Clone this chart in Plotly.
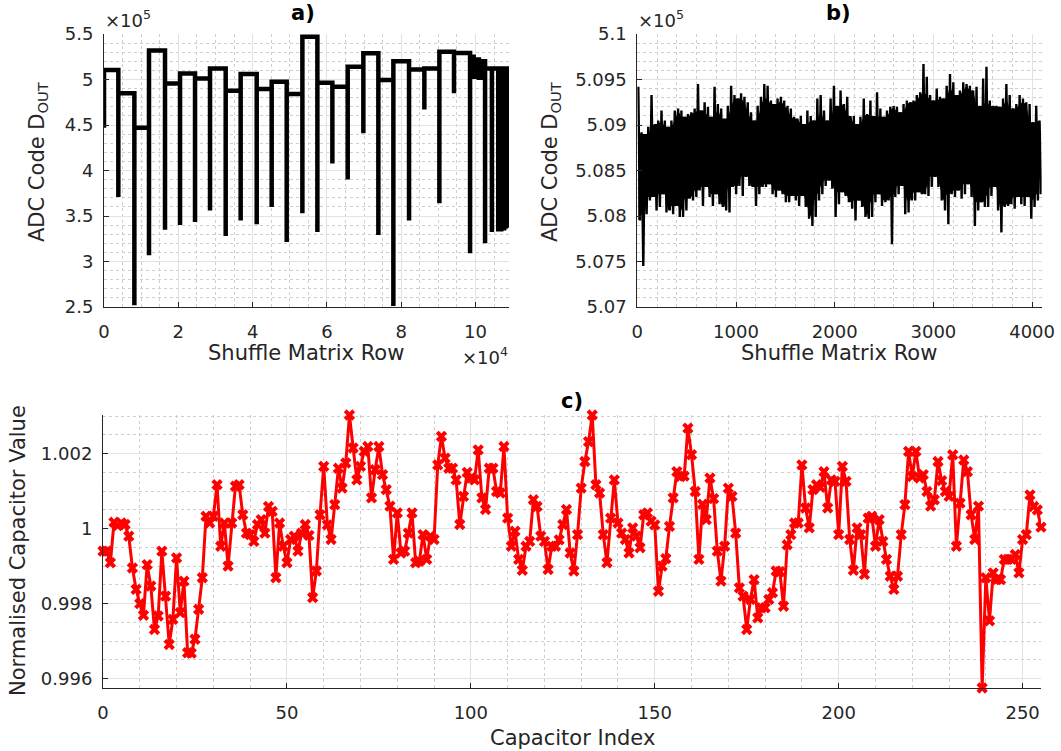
import numpy as np
import plotly.graph_objects as go

# ---------------- Panel a) data (x in units of 1e4 rows, y in units of 1e5) ----------------
a_start = [0.0, 0.386, 0.817, 1.211, 1.642, 2.046, 2.450, 2.853, 3.275, 3.678,
           4.110, 4.513, 4.917, 5.339, 5.743, 6.146, 6.559, 6.980, 7.384, 7.788,
           8.210, 8.622, 9.026, 9.420, 9.852, 9.950, 10.020, 10.090, 10.150, 10.256,
           10.440, 10.610, 10.650, 10.690, 10.730, 10.770, 10.810, 10.850]
a_spike = [4.47, 3.71, 2.52, 3.07, 3.35, 3.40, 3.435, 3.56, 3.28, 3.45,
           3.41, 3.60, 3.215, 3.53, 3.325, 4.078, 3.90, 4.41, 3.29, 2.51,
           3.45, 4.67, 3.64, 4.85, 3.09, 5.03, 5.22, 5.02, 5.20, 3.20,
           3.325, 3.33, 3.34, 3.33, 3.35, 3.34, 3.36, 3.37]
a_level = [5.104, 4.848, 4.469, 5.32, 4.957, 5.067, 5.01, 5.12, 4.876, 5.06,
           4.895, 4.975, 4.84, 5.47, 4.965, 4.92, 5.14, 5.288, 4.994, 5.20,
           5.11, 5.12, 5.305, 5.29, 5.25, 5.03, 5.22, 5.02, 5.20, 5.12,
           5.12, 5.12, 5.12, 5.12, 5.12, 5.12, 5.12, 5.12]
a_end = 10.9

# ---------------- Panel b) data (row index, y in units of 1e5) ----------------
b_upper = [5.0942, 5.0892, 5.0890, 5.0898, 5.0933, 5.0901, 5.0905, 5.0916, 5.0905, 5.0898,
           5.0905, 5.0916, 5.0918, 5.0916, 5.0909, 5.0912, 5.0914, 5.0918, 5.0945, 5.0916,
           5.0925, 5.0920, 5.0909, 5.0942, 5.0923, 5.0918, 5.0907, 5.0921, 5.0943, 5.0933,
           5.0929, 5.0935, 5.0931, 5.0925, 5.0914, 5.0905, 5.0921, 5.0931, 5.0945, 5.0943,
           5.0927, 5.0923, 5.0929, 5.0931, 5.0927, 5.0921, 5.0918, 5.0909, 5.0907, 5.0910,
           5.0901, 5.0916, 5.0910, 5.0905, 5.0929, 5.0933, 5.0916, 5.0905, 5.0929, 5.0943,
           5.0921, 5.0938, 5.0923, 5.0931, 5.0910, 5.0910, 5.0901, 5.0909, 5.0929, 5.0912,
           5.0927, 5.0910, 5.0936, 5.0918, 5.0909, 5.0916, 5.0920, 5.0921, 5.0920, 5.0914,
           5.0923, 5.0927, 5.0925, 5.0927, 5.0933, 5.0936, 5.0967, 5.0953, 5.0933, 5.0927,
           5.0940, 5.0931, 5.0929, 5.0943, 5.0956, 5.0947, 5.0933, 5.0938, 5.0947, 5.0945,
           5.0943, 5.0938, 5.0942, 5.0921, 5.0951, 5.0964, 5.0927, 5.0921, 5.0921, 5.0920,
           5.0929, 5.0945, 5.0933, 5.0918, 5.0923, 5.0933, 5.0929, 5.0925, 5.0923, 5.0903,
           5.0921, 5.0905]
b_lower = [5.0795, 5.0745, 5.0802, 5.0817, 5.0821, 5.0806, 5.0810, 5.0824, 5.0804, 5.0806,
           5.0802, 5.0811, 5.0799, 5.0799, 5.0806, 5.0819, 5.0817, 5.0821, 5.0828, 5.0811,
           5.0832, 5.0821, 5.0811, 5.0824, 5.0813, 5.0810, 5.0806, 5.0804, 5.0832, 5.0824,
           5.0833, 5.0822, 5.0843, 5.0833, 5.0832, 5.0811, 5.0824, 5.0832, 5.0832, 5.0835,
           5.0824, 5.0821, 5.0828, 5.0824, 5.0815, 5.0815, 5.0822, 5.0817, 5.0811, 5.0822,
           5.0810, 5.0797, 5.0789, 5.0799, 5.0817, 5.0824, 5.0833, 5.0839, 5.0830, 5.0799,
           5.0813, 5.0826, 5.0822, 5.0815, 5.0808, 5.0795, 5.0817, 5.0810, 5.0799, 5.0797,
           5.0799, 5.0815, 5.0824, 5.0811, 5.0815, 5.0817, 5.0769, 5.0821, 5.0824, 5.0833,
           5.0802, 5.0804, 5.0817, 5.0817, 5.0826, 5.0824, 5.0824, 5.0822, 5.0832, 5.0843,
           5.0832, 5.0817, 5.0806, 5.0791, 5.0824, 5.0821, 5.0828, 5.0819, 5.0824, 5.0835,
           5.0821, 5.0789, 5.0806, 5.0815, 5.0810, 5.0810, 5.0822, 5.0832, 5.0806, 5.0782,
           5.0810, 5.0811, 5.0813, 5.0808, 5.0821, 5.0813, 5.0811, 5.0821, 5.0797, 5.0810,
           5.0817, 5.0824]
b_row = np.linspace(10, 4075, len(b_upper))
b_half_step = 17

# ---------------- Panel c) data ----------------
c_index = list(range(256))
c_value = [
    0.99940, 0.99940, 0.99909, 1.00017, 1.00008, 1.00015, 1.00011, 0.99980, 0.99895, 0.99838,
    0.99800, 0.99769, 0.99904, 0.99847, 0.99731, 0.99767, 0.99940, 0.99820, 0.99691, 0.99758,
    0.99922, 0.99776, 0.99860, 0.99669, 0.99668, 0.99705, 0.99785, 0.99869, 1.00033, 1.00015,
    1.00033, 1.00117, 0.99953, 1.00015, 0.99900, 1.00015, 1.00113, 1.00117, 1.00037, 0.99988,
    0.99984, 0.99966, 1.00011, 1.00024, 0.99988, 1.00059, 1.00046, 0.99869, 1.00015, 0.99953,
    0.99909, 0.99971, 0.99980, 0.99940, 0.99988, 1.00011, 0.99982, 0.99816, 0.99887, 1.00037,
    1.00166, 1.00010, 0.99971, 1.00064, 1.00161, 1.00108, 1.00175, 1.00303, 1.00215, 1.00130,
    1.00166, 1.00206, 1.00219, 1.00082, 1.00157, 1.00219, 1.00144, 1.00104, 1.00060, 0.99918,
    1.00042, 0.99935, 0.99940, 0.99988, 1.00042, 0.99909, 0.99913, 0.99984, 0.99918, 0.99980,
    0.99971, 1.00170, 1.00246, 1.00188, 1.00161, 1.00161, 1.00130, 1.00011, 1.00086, 1.00150,
    1.00135, 1.00130, 1.00210, 1.00082, 1.00051, 1.00161, 1.00161, 1.00099, 1.00095, 1.00219,
    1.00028, 0.99953, 0.99993, 0.99918, 0.99889, 0.99953, 0.99966, 1.00077, 1.00059, 0.99980,
    0.99966, 0.99891, 0.99953, 0.99953, 0.99970, 1.00011, 1.00051, 0.99935, 0.99887, 0.99984,
    1.00108, 1.00179, 1.00232, 1.00303, 1.00117, 1.00095, 0.99984, 0.99909, 1.00028, 1.00130,
    1.00015, 0.99988, 0.99971, 0.99935, 1.00002, 0.99980, 0.99949, 1.00037, 1.00042, 1.00020,
    1.00010, 0.99833, 0.99900, 0.99920, 1.00006, 1.00082, 1.00152, 1.00139, 1.00140, 1.00268,
    1.00197, 1.00099, 0.99918, 1.00065, 1.00024, 1.00135, 1.00080, 0.99940, 0.99860, 0.99953,
    1.00108, 1.00086, 0.99988, 0.99842, 0.99820, 0.99731, 0.99811, 0.99864, 0.99762, 0.99789,
    0.99789, 0.99811, 0.99829, 0.99887, 0.99885, 0.99793, 0.99957, 0.99984, 1.00015, 1.00015,
    1.00170, 1.00055, 1.00002, 1.00104, 1.00117, 1.00110, 1.00152, 1.00055, 1.00130, 1.00126,
    0.99984, 1.00166, 1.00126, 0.99971, 0.99889, 1.00002, 0.99984, 0.99878, 1.00028, 1.00033,
    0.99953, 1.00024, 0.99966, 0.99918, 0.99873, 0.99838, 0.99873, 0.99984, 1.00064, 1.00206,
    1.00139, 1.00206, 1.00135, 1.00144, 1.00099, 1.00060, 1.00077, 1.00179, 1.00128, 1.00099,
    1.00086, 1.00197, 0.99953, 1.00068, 1.00183, 1.00152, 1.00037, 0.99971, 1.00060, 0.99575,
    0.99869, 0.99754, 0.99882, 0.99864, 0.99864, 0.99918, 0.99918, 0.99918, 0.99931, 0.99882,
    0.99971, 0.99984, 1.00090, 1.00059, 1.00050, 1.00004]

# tick labels
a_xticks = [0, 2, 4, 6, 8, 10]
a_yticks = [2.5, 3, 3.5, 4, 4.5, 5, 5.5]
a_yticklabels = ["2.5", "3", "3.5", "4", "4.5", "5", "5.5"]
b_xticks = [0, 1000, 2000, 3000, 4000]
b_yticks = [5.07, 5.075, 5.08, 5.085, 5.09, 5.095, 5.1]
b_yticklabels = ["5.07", "5.075", "5.08", "5.085", "5.09", "5.095", "5.1"]
c_xticks = [0, 50, 100, 150, 200, 250]
c_yticks = [0.996, 0.998, 1.0, 1.002]
c_yticklabels = ["0.996", "0.998", "1", "1.002"]

# ---------------- build traces ----------------
ax, ay = [], []
prev = None
for s, m, L in zip(a_start, a_spike, a_level):
    if prev is not None:
        ax.append(s); ay.append(prev)
    ax += [s, s]; ay += [m, L]
    prev = L
ax.append(a_end); ay.append(prev)

# panel b: zig-zag between the read upper and lower excursions
bx, by = [], []
for r, u, lo in zip(b_row, b_upper, b_lower):
    bx += [r, r + b_half_step]
    by += [u, lo]
# solid core of the band: the excursions every trace sweep covers (neighbour min/max)
n = len(b_upper)
b_core_hi = [min(b_upper[max(0, k - 1):k + 2]) for k in range(n)]
b_core_lo = [max(b_lower[max(0, k - 1):k + 2]) for k in range(n)]

W, H = 1061, 751
def px(x):
    return x / W
def py(y):
    return 1 - y / H

FONT = "DejaVu Sans"
DARK = "#262626"
TICK = 18
LAB = 21

fig = go.Figure()
fig.add_trace(go.Scatter(x=ax, y=ay, mode="lines", line=dict(color="black", width=4.5, simplify=False),
                         xaxis="x", yaxis="y", showlegend=False, hoverinfo="skip"))
fig.add_trace(go.Scatter(x=b_row, y=b_core_lo, mode="lines", line=dict(color="black", width=0),
                         xaxis="x2", yaxis="y2", showlegend=False, hoverinfo="skip"))
fig.add_trace(go.Scatter(x=b_row, y=b_core_hi, mode="lines", line=dict(color="black", width=0),
                         fill="tonexty", fillcolor="black",
                         xaxis="x2", yaxis="y2", showlegend=False, hoverinfo="skip"))
fig.add_trace(go.Scatter(x=bx, y=by, mode="lines", line=dict(color="black", width=2.4, simplify=False),
                         xaxis="x2", yaxis="y2", showlegend=False, hoverinfo="skip"))
fig.add_trace(go.Scatter(x=c_index, y=c_value, mode="lines+markers",
                         line=dict(color="red", width=3),
                         marker=dict(symbol="x", size=10, color="red", line=dict(width=0)),
                         xaxis="x3", yaxis="y3", showlegend=False, cliponaxis=False))

def axis(domain, rng, tickvals, ticktext, minor_dtick, minor_tick0, anchor, standoff):
    return dict(domain=domain, range=rng, anchor=anchor, tickmode="array",
                tickvals=tickvals, ticktext=ticktext,
                showline=True, linecolor=DARK, linewidth=1, mirror=False,
                ticks="inside", ticklen=5, tickcolor=DARK, tickwidth=1,
                showgrid=True, gridcolor="#e2e2e2", gridwidth=1, zeroline=False,
                tickfont=dict(family=FONT, size=TICK, color=DARK),
                ticklabelstandoff=standoff, automargin=False,
                minor=dict(dtick=minor_dtick, tick0=minor_tick0,
                           showgrid=True, gridcolor="#cfcfcf", griddash="dot",
                           gridwidth=1, ticks=""))

ya_dom = [py(307), py(34)]
fig.update_layout(
    width=W, height=H, margin=dict(l=0, r=0, t=0, b=0),
    paper_bgcolor="white", plot_bgcolor="white",
    xaxis=axis([px(104), px(509)], [0, a_end], a_xticks, [str(v) for v in a_xticks], 0.5, 0, "y", 8),
    yaxis=axis(ya_dom, [2.5, 5.5], a_yticks, a_yticklabels, 0.1, 2.5, "x", 6),
    xaxis2=axis([px(637.3), px(1041.6)], [0, 4096], b_xticks, [str(v) for v in b_xticks], 200, 0, "y2", 8),
    yaxis2=axis(ya_dom, [5.07, 5.1], b_yticks, b_yticklabels, 0.001, 5.07, "x2", 6),
    xaxis3=axis([px(103), px(1041)], [0, 255], c_xticks, [str(v) for v in c_xticks], 10, 0, "y3", 8),
    yaxis3=axis([py(688), py(415)], [min(c_value), max(c_value)], c_yticks, c_yticklabels, 0.0005, 0.996, "x3", 6),
)

ann = []
def add(text, x, y, size, xa="center", ya="middle", angle=0, color=DARK):
    ann.append(dict(text=text, x=px(x), y=py(y), xref="paper", yref="paper", showarrow=False,
                    xanchor=xa, yanchor=ya, textangle=angle,
                    font=dict(family=FONT, size=size, color=color)))

add("<b>a)</b>", 303, 13, LAB, color="black")
add("<b>b)</b>", 838, 13, LAB, color="black")
add("<b>c)</b>", 572, 401, LAB, color="black")
add("×10<sup>5</sup>", 103, 33, TICK, xa="left", ya="bottom")
add("×10<sup>5</sup>", 636, 33, TICK, xa="left", ya="bottom")
add("×10<sup>4</sup>", 510, 370, TICK, xa="right", ya="bottom")
add("Shuffle Matrix Row", 306, 353, LAB)
add("Shuffle Matrix Row", 839, 353, LAB)
add("Capacitor Index", 572, 738, LAB)
add("ADC Code D<sub>OUT</sub>", 38, 162, LAB, angle=-90)
add("ADC Code D<sub>OUT</sub>", 551, 162, LAB, angle=-90)
add("Normalised Capacitor Value", 18, 551, LAB, angle=-90)
fig.update_layout(annotations=ann)

fig.write_html("out.html", config={"displayModeBar": False},
               post_script="document.body.style.margin='0px';document.body.style.padding='0px';")
